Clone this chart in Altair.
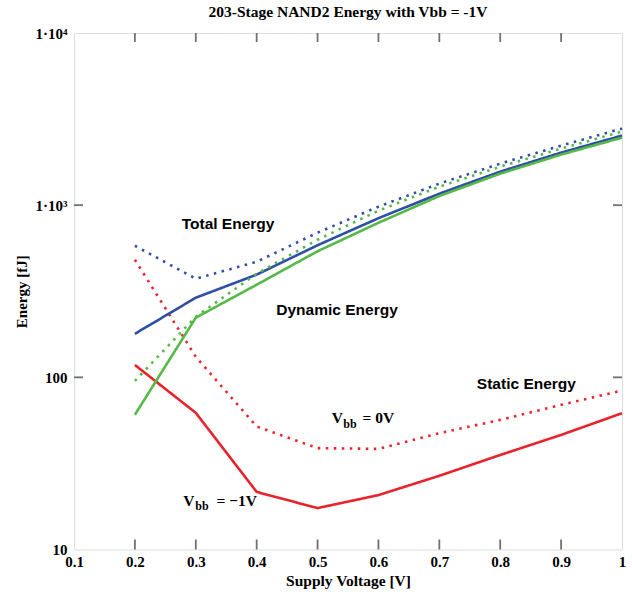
import altair as alt
import pandas as pd

# ---------------- data ----------------
voltage = [0.2, 0.3, 0.4, 0.5, 0.6, 0.7, 0.8, 0.9, 1.0]

total_vbb_m1 = [179, 290, 395, 585, 840, 1166, 1566, 2019, 2535]
total_vbb_0 = [581, 374, 469, 692, 980, 1334, 1743, 2218, 2785]
dynamic_vbb_m1 = [60.6, 222, 345, 540, 790, 1130, 1524, 1966, 2467]
dynamic_vbb_0 = [95.4, 225, 400, 630, 929, 1281, 1674, 2131, 2675]
static_vbb_m1 = [118, 62.2, 21.6, 17.4, 20.7, 26.8, 35.4, 46.3, 61.9]
static_vbb_0 = [482, 131.6, 51.8, 38.8, 38.4, 47.4, 56.6, 69.2, 83.8]

x_ticks = [0.1, 0.2, 0.3, 0.4, 0.5, 0.6, 0.7, 0.8, 0.9, 1.0]
x_tick_labels = ["0.1", "0.2", "0.3", "0.4", "0.5", "0.6", "0.7", "0.8", "0.9", "1"]
y_ticks = [10, 100, 1000, 10000]
y_tick_labels = ["10", "100", "1·10³", "1·10⁴"]
inner_x_ticks = [0.2, 0.3, 0.4, 0.5, 0.6, 0.7, 0.8, 0.9]
inner_y_ticks = [100, 1000]

label_text = ["Total Energy", "Dynamic Energy", "Static Energy"]
label_v = [0.353, 0.532, 0.843]
label_e = [777, 247, 91.7]

vbb_main_text = ["V", "V"]
vbb_main_v = [0.5235, 0.2796]
vbb_main_e = [57.9, 19.1]
vbb_sub_text = ["bb", "bb"]
vbb_sub_v = [0.5424, 0.2993]
vbb_sub_e = [53.7, 17.8]
vbb_rest_text = ["= 0V", "= −1V"]
vbb_rest_v = [0.574, 0.334]
vbb_rest_e = [57.9, 19.1]

# ---------------- tables ----------------
rows = []
for kind, vbb, vals in [
    ("Static", "-1V", static_vbb_m1),
    ("Static", "0V", static_vbb_0),
    ("Total", "-1V", total_vbb_m1),
    ("Total", "0V", total_vbb_0),
    ("Dynamic", "-1V", dynamic_vbb_m1),
    ("Dynamic", "0V", dynamic_vbb_0),
]:
    for v, e in zip(voltage, vals):
        rows.append({"V": v, "E": e, "kind": kind, "vbb": vbb, "series": kind + vbb})
df = pd.DataFrame(rows)

labels_df = pd.DataFrame({"V": label_v, "E": label_e, "text": label_text})
vmain_df = pd.DataFrame({"V": vbb_main_v, "E": vbb_main_e, "text": vbb_main_text})
vsub_df = pd.DataFrame({"V": vbb_sub_v, "E": vbb_sub_e, "text": vbb_sub_text})
vrest_df = pd.DataFrame({"V": vbb_rest_v, "E": vbb_rest_e, "text": vbb_rest_text})
xt_df = pd.DataFrame({"V": inner_x_ticks})
yt_df = pd.DataFrame({"E": inner_y_ticks})

W, H = 548, 516.5
GRAY = "#707070"
SERIF = "Liberation Serif"
SANS = "Liberation Sans"

xscale = alt.Scale(domain=[0.1, 1.0], nice=False, zero=False)
yscale = alt.Scale(type="log", domain=[10, 10000], nice=False)

x_label_expr = " : ".join(
    [f"datum.value > {v - 0.05:.2f} && datum.value < {v + 0.05:.2f} ? '{l}'" for v, l in zip(x_ticks, x_tick_labels)]
) + " : ''"
y_label_expr = " : ".join(
    [f"datum.value > {v * 0.9} && datum.value < {v * 1.1} ? '{l}'" for v, l in zip(y_ticks, y_tick_labels)]
) + " : ''"

x_axis = alt.Axis(
    values=x_ticks, labelExpr=x_label_expr, title="Supply Voltage [V]",
    ticks=False, domain=False, grid=False, labelFont=SERIF, labelFontWeight="bold",
    labelFontSize=15, labelColor="black", labelPadding=5, labelFlush=False,
    titleFont=SERIF, titleFontWeight="bold", titleFontSize=15.5, titleColor="black",
    titlePadding=4,
)
y_axis = alt.Axis(
    values=y_ticks, labelExpr=y_label_expr, title="Energy [fJ]",
    ticks=False, domain=False, grid=False, labelFont=SERIF, labelFontWeight="bold",
    labelFontSize=15, labelColor="black", labelPadding=7, labelFlush=False,
    titleFont=SERIF, titleFontWeight="bold", titleFontSize=15, titleColor="black",
    titlePadding=6,
)

X = alt.X("V:Q", scale=xscale, axis=x_axis)
Y = alt.Y("E:Q", scale=yscale, axis=y_axis)

lines = alt.Chart(df).mark_line(strokeWidth=2.6, strokeCap="butt").encode(
    x=X,
    y=Y,
    color=alt.Color("kind:N", scale=alt.Scale(domain=["Total", "Dynamic", "Static"],
                                               range=["#2f4ea5", "#55b947", "#e8232b"]), legend=None),
    strokeDash=alt.StrokeDash("vbb:N", scale=alt.Scale(domain=["-1V", "0V"], range=[[1, 0], [2.5, 5.5]]), legend=None),
    detail="series:N",
)

def tick_layer(data, **enc):
    return alt.Chart(data).mark_rule(color=GRAY, strokeWidth=1.8).encode(**enc)

tb = tick_layer(xt_df, x=X, y=alt.value(H), y2=alt.value(H - 10))
tt = tick_layer(xt_df, x=X, y=alt.value(0), y2=alt.value(9))
tl = tick_layer(yt_df, y=Y, x=alt.value(0), x2=alt.value(9))
tr = tick_layer(yt_df, y=Y, x=alt.value(W), x2=alt.value(W - 9))

def text_layer(data, **mk):
    return alt.Chart(data).mark_text(color="black", **mk).encode(
        x=X,
        y=Y,
        text="text:N",
    )

t_labels = text_layer(labels_df, font=SANS, fontWeight="bold", fontSize=15.5, align="center", baseline="middle")
t_vmain = text_layer(vmain_df, font=SERIF, fontWeight="bold", fontSize=15.5, align="left", baseline="middle")
t_vsub = text_layer(vsub_df, font=SERIF, fontWeight="bold", fontSize=12, align="left", baseline="middle")
t_vrest = text_layer(vrest_df, font=SERIF, fontWeight="bold", fontSize=15.5, align="left", baseline="middle")

chart = alt.layer(lines, tb, tt, tl, tr, t_labels, t_vmain, t_vsub, t_vrest).properties(
    width=W, height=H,
    title=alt.TitleParams("203-Stage NAND2 Energy with Vbb = -1V", font=SERIF, fontWeight="bold",
                          fontSize=15.5, color="black", anchor="middle", offset=6),
    autosize=alt.AutoSizeParams(type="none"),
    padding={"left": 74, "top": 33, "right": 10, "bottom": 47.5},
).configure_view(stroke=GRAY, strokeWidth=1.6).configure(background="white")

chart.save("out.html", embed_options={"renderer": "svg", "actions": False})
